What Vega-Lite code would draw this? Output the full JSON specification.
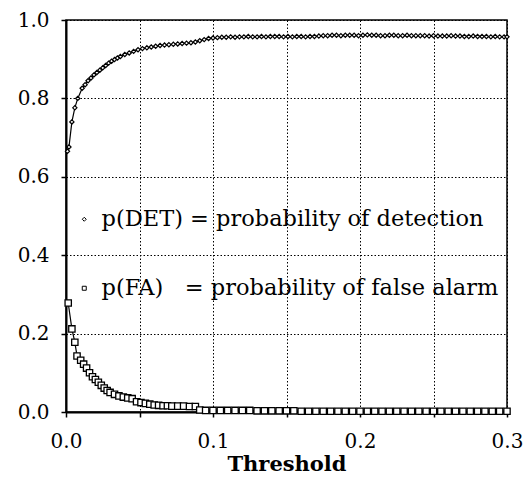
{
  "$schema": "https://vega.github.io/schema/vega-lite/v6.json",
  "width": 441,
  "height": 392,
  "autosize": {"type": "none"},
  "padding": {"left": 66, "top": 20, "right": 20, "bottom": 67},
  "background": "white",
  "config": {
    "view": {"stroke": "black", "strokeWidth": 1.5},
    "font": "DejaVu Serif",
    "axis": {
      "labelFont": "DejaVu Serif",
      "labelFontSize": 20,
      "labelColor": "black",
      "labelFlush": false,
      "titleFont": "DejaVu Serif",
      "titleColor": "black",
      "titleFontWeight": "bold",
      "titleFontSize": 21,
      "domainColor": "black",
      "domainWidth": 2,
      "tickColor": "black",
      "tickSize": 5,
      "tickWidth": 1.5,
      "grid": true,
      "gridColor": "black",
      "gridOpacity": 1,
      "gridDash": [1.5, 2],
      "gridWidth": 1
    },
    "legend": {
      "labelFont": "DejaVu Serif",
      "labelFontSize": 22.5,
      "labelColor": "black",
      "labelLimit": 500
    }
  },
  "data": {
    "values": [
      {"series": "DET", "x": 0.001, "y": 0.665},
      {"series": "DET", "x": 0.002, "y": 0.676},
      {"series": "DET", "x": 0.004, "y": 0.74},
      {"series": "DET", "x": 0.006, "y": 0.776},
      {"series": "DET", "x": 0.008, "y": 0.80},
      {"series": "DET", "x": 0.011, "y": 0.826},
      {"series": "DET", "x": 0.013, "y": 0.835},
      {"series": "DET", "x": 0.015, "y": 0.845},
      {"series": "DET", "x": 0.017, "y": 0.852},
      {"series": "DET", "x": 0.019, "y": 0.86},
      {"series": "DET", "x": 0.021, "y": 0.866},
      {"series": "DET", "x": 0.023, "y": 0.872},
      {"series": "DET", "x": 0.025, "y": 0.878},
      {"series": "DET", "x": 0.027, "y": 0.884},
      {"series": "DET", "x": 0.029, "y": 0.89},
      {"series": "DET", "x": 0.031, "y": 0.895},
      {"series": "DET", "x": 0.033, "y": 0.899},
      {"series": "DET", "x": 0.035, "y": 0.903},
      {"series": "DET", "x": 0.037, "y": 0.907},
      {"series": "DET", "x": 0.040, "y": 0.912},
      {"series": "DET", "x": 0.043, "y": 0.916},
      {"series": "DET", "x": 0.046, "y": 0.920},
      {"series": "DET", "x": 0.049, "y": 0.924},
      {"series": "DET", "x": 0.052, "y": 0.927},
      {"series": "DET", "x": 0.055, "y": 0.929},
      {"series": "DET", "x": 0.058, "y": 0.931},
      {"series": "DET", "x": 0.061, "y": 0.933},
      {"series": "DET", "x": 0.064, "y": 0.935},
      {"series": "DET", "x": 0.067, "y": 0.936},
      {"series": "DET", "x": 0.070, "y": 0.937},
      {"series": "DET", "x": 0.073, "y": 0.938},
      {"series": "DET", "x": 0.076, "y": 0.939},
      {"series": "DET", "x": 0.079, "y": 0.940},
      {"series": "DET", "x": 0.082, "y": 0.941},
      {"series": "DET", "x": 0.085, "y": 0.942},
      {"series": "DET", "x": 0.088, "y": 0.944},
      {"series": "DET", "x": 0.091, "y": 0.947},
      {"series": "DET", "x": 0.094, "y": 0.950},
      {"series": "DET", "x": 0.097, "y": 0.953},
      {"series": "DET", "x": 0.100, "y": 0.954},
      {"series": "DET", "x": 0.103, "y": 0.955},
      {"series": "DET", "x": 0.106, "y": 0.956},
      {"series": "DET", "x": 0.109, "y": 0.956},
      {"series": "DET", "x": 0.112, "y": 0.957},
      {"series": "DET", "x": 0.115, "y": 0.956},
      {"series": "DET", "x": 0.118, "y": 0.957},
      {"series": "DET", "x": 0.121, "y": 0.957},
      {"series": "DET", "x": 0.124, "y": 0.958},
      {"series": "DET", "x": 0.127, "y": 0.957},
      {"series": "DET", "x": 0.130, "y": 0.957},
      {"series": "DET", "x": 0.133, "y": 0.958},
      {"series": "DET", "x": 0.136, "y": 0.957},
      {"series": "DET", "x": 0.139, "y": 0.958},
      {"series": "DET", "x": 0.142, "y": 0.958},
      {"series": "DET", "x": 0.145, "y": 0.958},
      {"series": "DET", "x": 0.148, "y": 0.957},
      {"series": "DET", "x": 0.151, "y": 0.958},
      {"series": "DET", "x": 0.154, "y": 0.957},
      {"series": "DET", "x": 0.157, "y": 0.958},
      {"series": "DET", "x": 0.160, "y": 0.958},
      {"series": "DET", "x": 0.163, "y": 0.957},
      {"series": "DET", "x": 0.166, "y": 0.958},
      {"series": "DET", "x": 0.169, "y": 0.958},
      {"series": "DET", "x": 0.172, "y": 0.959},
      {"series": "DET", "x": 0.175, "y": 0.960},
      {"series": "DET", "x": 0.178, "y": 0.960},
      {"series": "DET", "x": 0.181, "y": 0.961},
      {"series": "DET", "x": 0.184, "y": 0.961},
      {"series": "DET", "x": 0.187, "y": 0.960},
      {"series": "DET", "x": 0.190, "y": 0.961},
      {"series": "DET", "x": 0.193, "y": 0.961},
      {"series": "DET", "x": 0.196, "y": 0.961},
      {"series": "DET", "x": 0.199, "y": 0.960},
      {"series": "DET", "x": 0.202, "y": 0.961},
      {"series": "DET", "x": 0.205, "y": 0.962},
      {"series": "DET", "x": 0.208, "y": 0.961},
      {"series": "DET", "x": 0.211, "y": 0.961},
      {"series": "DET", "x": 0.214, "y": 0.960},
      {"series": "DET", "x": 0.217, "y": 0.960},
      {"series": "DET", "x": 0.220, "y": 0.961},
      {"series": "DET", "x": 0.223, "y": 0.961},
      {"series": "DET", "x": 0.226, "y": 0.960},
      {"series": "DET", "x": 0.229, "y": 0.960},
      {"series": "DET", "x": 0.232, "y": 0.961},
      {"series": "DET", "x": 0.235, "y": 0.960},
      {"series": "DET", "x": 0.238, "y": 0.960},
      {"series": "DET", "x": 0.241, "y": 0.960},
      {"series": "DET", "x": 0.244, "y": 0.960},
      {"series": "DET", "x": 0.247, "y": 0.959},
      {"series": "DET", "x": 0.250, "y": 0.960},
      {"series": "DET", "x": 0.253, "y": 0.959},
      {"series": "DET", "x": 0.256, "y": 0.959},
      {"series": "DET", "x": 0.259, "y": 0.959},
      {"series": "DET", "x": 0.262, "y": 0.960},
      {"series": "DET", "x": 0.265, "y": 0.959},
      {"series": "DET", "x": 0.268, "y": 0.959},
      {"series": "DET", "x": 0.271, "y": 0.958},
      {"series": "DET", "x": 0.274, "y": 0.958},
      {"series": "DET", "x": 0.277, "y": 0.959},
      {"series": "DET", "x": 0.280, "y": 0.958},
      {"series": "DET", "x": 0.283, "y": 0.958},
      {"series": "DET", "x": 0.286, "y": 0.958},
      {"series": "DET", "x": 0.289, "y": 0.957},
      {"series": "DET", "x": 0.292, "y": 0.958},
      {"series": "DET", "x": 0.295, "y": 0.957},
      {"series": "DET", "x": 0.298, "y": 0.957},
      {"series": "DET", "x": 0.300, "y": 0.957},
      {"series": "FA", "x": 0.0015, "y": 0.278},
      {"series": "FA", "x": 0.004, "y": 0.212},
      {"series": "FA", "x": 0.006, "y": 0.178},
      {"series": "FA", "x": 0.0075, "y": 0.143},
      {"series": "FA", "x": 0.010, "y": 0.132},
      {"series": "FA", "x": 0.012, "y": 0.122},
      {"series": "FA", "x": 0.014, "y": 0.112},
      {"series": "FA", "x": 0.016, "y": 0.100},
      {"series": "FA", "x": 0.018, "y": 0.090},
      {"series": "FA", "x": 0.020, "y": 0.083},
      {"series": "FA", "x": 0.022, "y": 0.076},
      {"series": "FA", "x": 0.024, "y": 0.068},
      {"series": "FA", "x": 0.026, "y": 0.061},
      {"series": "FA", "x": 0.028, "y": 0.055},
      {"series": "FA", "x": 0.030, "y": 0.050},
      {"series": "FA", "x": 0.033, "y": 0.045},
      {"series": "FA", "x": 0.036, "y": 0.041},
      {"series": "FA", "x": 0.039, "y": 0.038},
      {"series": "FA", "x": 0.042, "y": 0.036},
      {"series": "FA", "x": 0.045, "y": 0.034},
      {"series": "FA", "x": 0.048, "y": 0.026},
      {"series": "FA", "x": 0.051, "y": 0.024},
      {"series": "FA", "x": 0.054, "y": 0.022},
      {"series": "FA", "x": 0.057, "y": 0.020},
      {"series": "FA", "x": 0.060, "y": 0.018},
      {"series": "FA", "x": 0.063, "y": 0.017},
      {"series": "FA", "x": 0.066, "y": 0.016},
      {"series": "FA", "x": 0.069, "y": 0.016},
      {"series": "FA", "x": 0.072, "y": 0.015},
      {"series": "FA", "x": 0.076, "y": 0.015},
      {"series": "FA", "x": 0.080, "y": 0.015},
      {"series": "FA", "x": 0.084, "y": 0.014},
      {"series": "FA", "x": 0.088, "y": 0.014},
      {"series": "FA", "x": 0.091, "y": 0.005},
      {"series": "FA", "x": 0.095, "y": 0.004},
      {"series": "FA", "x": 0.100, "y": 0.004},
      {"series": "FA", "x": 0.105, "y": 0.004},
      {"series": "FA", "x": 0.110, "y": 0.004},
      {"series": "FA", "x": 0.115, "y": 0.004},
      {"series": "FA", "x": 0.120, "y": 0.004},
      {"series": "FA", "x": 0.125, "y": 0.004},
      {"series": "FA", "x": 0.130, "y": 0.003},
      {"series": "FA", "x": 0.135, "y": 0.003},
      {"series": "FA", "x": 0.140, "y": 0.003},
      {"series": "FA", "x": 0.145, "y": 0.003},
      {"series": "FA", "x": 0.150, "y": 0.003},
      {"series": "FA", "x": 0.155, "y": 0.003},
      {"series": "FA", "x": 0.160, "y": 0.002},
      {"series": "FA", "x": 0.165, "y": 0.002},
      {"series": "FA", "x": 0.170, "y": 0.002},
      {"series": "FA", "x": 0.175, "y": 0.002},
      {"series": "FA", "x": 0.180, "y": 0.002},
      {"series": "FA", "x": 0.185, "y": 0.002},
      {"series": "FA", "x": 0.190, "y": 0.002},
      {"series": "FA", "x": 0.195, "y": 0.002},
      {"series": "FA", "x": 0.200, "y": 0.002},
      {"series": "FA", "x": 0.205, "y": 0.002},
      {"series": "FA", "x": 0.210, "y": 0.002},
      {"series": "FA", "x": 0.215, "y": 0.002},
      {"series": "FA", "x": 0.220, "y": 0.002},
      {"series": "FA", "x": 0.225, "y": 0.002},
      {"series": "FA", "x": 0.230, "y": 0.002},
      {"series": "FA", "x": 0.235, "y": 0.002},
      {"series": "FA", "x": 0.240, "y": 0.002},
      {"series": "FA", "x": 0.245, "y": 0.002},
      {"series": "FA", "x": 0.250, "y": 0.002},
      {"series": "FA", "x": 0.255, "y": 0.002},
      {"series": "FA", "x": 0.260, "y": 0.002},
      {"series": "FA", "x": 0.265, "y": 0.002},
      {"series": "FA", "x": 0.270, "y": 0.002},
      {"series": "FA", "x": 0.275, "y": 0.002},
      {"series": "FA", "x": 0.280, "y": 0.002},
      {"series": "FA", "x": 0.285, "y": 0.002},
      {"series": "FA", "x": 0.290, "y": 0.002},
      {"series": "FA", "x": 0.295, "y": 0.002},
      {"series": "FA", "x": 0.300, "y": 0.002}
    ]
  },
  "encoding": {
    "x": {
      "field": "x",
      "type": "quantitative",
      "scale": {"domain": [0, 0.3], "nice": false},
      "axis": {
        "title": "Threshold",
        "values": [0, 0.05, 0.1, 0.15, 0.2, 0.25, 0.3],
        "labelExpr": "round(datum.value*20) % 2 == 0 ? format(datum.value, '.1f') : ''",
        "labelPadding": 14,
        "titlePadding": 2
      }
    },
    "y": {
      "field": "y",
      "type": "quantitative",
      "scale": {"domain": [0, 1], "nice": false},
      "axis": {
        "title": null,
        "values": [0, 0.2, 0.4, 0.6, 0.8, 1.0],
        "format": ".1f",
        "labelPadding": 12
      }
    }
  },
  "layer": [
    {
      "mark": {"type": "line", "color": "black", "strokeWidth": 1.2},
      "encoding": {"detail": {"field": "series"}}
    },
    {
      "transform": [{"filter": "datum.series == 'DET'"}],
      "mark": {"type": "point", "filled": true, "fill": "white", "stroke": "black", "strokeWidth": 1.2, "size": 18, "opacity": 1},
      "encoding": {
        "shape": {
          "field": "series",
          "type": "nominal",
          "scale": {"domain": ["DET", "FA"], "range": ["diamond", "square"]},
          "legend": {
            "title": null,
            "orient": "none",
            "legendX": 7,
            "legendY": 188,
            "direction": "vertical",
            "rowPadding": 46,
            "labelOffset": 6,
            "symbolSize": 16,
            "symbolStrokeWidth": 1,
            "encode": {
              "symbols": {
                "update": {
                  "fill": {"value": "black"},
                  "stroke": {"value": "black"},
                  "opacity": {"value": 1},
                  "fillOpacity": {"value": 1},
                  "strokeOpacity": {"value": 1}
                }
              }
            },
            "labelExpr": "datum.label == 'DET' ? 'p(DET) = probability of detection' : 'p(FA)\u00a0\u00a0\u00a0= probability of false alarm'"
          }
        }
      }
    },
    {
      "transform": [{"filter": "datum.series == 'FA'"}],
      "mark": {"type": "point", "filled": true, "fill": "white", "stroke": "black", "strokeWidth": 1.3, "size": 40, "opacity": 1},
      "encoding": {
        "shape": {"field": "series", "type": "nominal"}
      }
    }
  ]
}
